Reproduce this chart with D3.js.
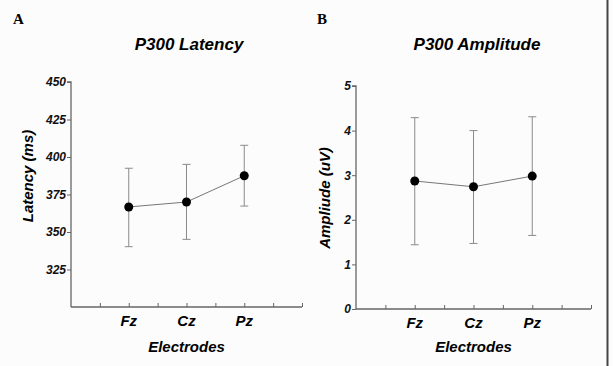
<!DOCTYPE html>
<html>
<head>
<meta charset="utf-8">
<script src="https://cdn.jsdelivr.net/npm/d3@7"></script>
<style>
  body { margin: 0; background: #fcfcfc; }
  svg { display: block; }
</style>
</head>
<body>
<svg id="chart"></svg>
<script>
// Chart size
const width = 613;
const height = 366;

// Electrodes (categories) and their slot on the x axis
const electrodes = ["Fz", "Cz", "Pz"];
const electrodeSlots = [2, 4, 6];

// Panel A: latency (ms)
const latencyMean = [366.7, 370.0, 387.5];
const latencyHigh = [392.5, 395.1, 407.8];
const latencyLow = [340.2, 345.1, 367.3];
const latencyTicks = [325, 350, 375, 400, 425, 450];

// Panel B: amplitude (uV)
const ampMean = [2.87, 2.74, 2.98];
const ampHigh = [4.29, 4.00, 4.31];
const ampLow = [1.44, 1.47, 1.65];
const ampTicks = [0, 1, 2, 3, 4, 5];

const sans = "Liberation Sans, Arial, sans-serif";

const svg = d3.select("#chart")
    .attr("width", width)
    .attr("height", height);

svg.append("rect")
    .attr("width", width)
    .attr("height", height)
    .attr("fill", "#fcfcfc");

// Right frame line
svg.append("line")
    .attr("x1", 607.5).attr("x2", 607.5)
    .attr("y1", 0).attr("y2", height)
    .attr("stroke", "#444")
    .attr("stroke-width", 2);

// Draw one panel
function drawPanel(opts) {
    const x = d3.scaleLinear().domain([0, 8]).range([opts.left, opts.right]);
    const y = d3.scaleLinear().domain(opts.domain).range([opts.bottom, opts.top]);
    const g = svg.append("g");

    // panel letter
    g.append("text")
        .attr("x", opts.letterX).attr("y", 24)
        .attr("font-family", "Liberation Serif, Times New Roman, serif")
        .attr("font-weight", "bold")
        .attr("font-size", 15)
        .text(opts.letter);

    // title
    g.append("text")
        .attr("x", opts.titleX).attr("y", 50)
        .attr("text-anchor", "middle")
        .attr("font-family", sans)
        .attr("font-weight", "bold")
        .attr("font-style", "italic")
        .attr("font-size", 17)
        .text(opts.title);

    // y axis
    const yAxis = g.append("g")
        .attr("transform", `translate(${opts.left},0)`)
        .call(d3.axisLeft(y).tickValues(opts.ticks).tickSize(4).tickPadding(1).tickFormat(d3.format("d")));
    yAxis.attr("font-family", sans).attr("font-size", 12)
        .attr("font-weight", "bold").attr("font-style", "italic");
    yAxis.select(".domain").attr("stroke", "#666").attr("stroke-width", 1.3)
        .attr("d", `M-4,${y(opts.domain[1])}H0V${opts.bottom}`);
    yAxis.selectAll(".tick line").attr("stroke", "#666");
    yAxis.selectAll(".tick text").attr("fill", "#111");

    // x axis, ticks point up
    const xAxis = g.append("g")
        .attr("transform", `translate(0,${opts.bottom})`)
        .call(d3.axisBottom(x).tickValues(d3.range(1, 9)).tickSize(-4).tickFormat(""));
    xAxis.select(".domain").attr("stroke", "#666").attr("stroke-width", 1.3)
        .attr("d", `M${opts.left},0H${opts.right}`);
    xAxis.selectAll(".tick line").attr("stroke", "#666");

    // electrode labels
    g.selectAll(".elab")
        .data(electrodes)
        .join("text")
        .attr("x", (d, i) => x(electrodeSlots[i]))
        .attr("y", opts.bottom + 19)
        .attr("text-anchor", "middle")
        .attr("font-family", sans)
        .attr("font-weight", "bold")
        .attr("font-style", "italic")
        .attr("font-size", 15)
        .text(d => d);

    // x title
    g.append("text")
        .attr("x", x(4)).attr("y", 352)
        .attr("text-anchor", "middle")
        .attr("font-family", sans)
        .attr("font-weight", "bold")
        .attr("font-style", "italic")
        .attr("font-size", 15)
        .text("Electrodes");

    // y title
    g.append("text")
        .attr("transform", `translate(${opts.yTitleX},${opts.yTitleY}) rotate(-90)`)
        .attr("text-anchor", "middle")
        .attr("font-family", sans)
        .attr("font-weight", "bold")
        .attr("font-style", "italic")
        .attr("font-size", 15)
        .text(opts.yTitle);

    const pts = electrodes.map((e, i) => ({
        x: x(electrodeSlots[i]), mean: opts.mean[i], hi: opts.high[i], lo: opts.low[i]
    }));

    // error bars
    const eb = g.selectAll(".eb").data(pts).join("g").attr("stroke", "#8a8a8a").attr("stroke-width", 1);
    eb.append("line").attr("x1", d => d.x).attr("x2", d => d.x)
        .attr("y1", d => y(d.hi)).attr("y2", d => y(d.lo));
    eb.append("line").attr("x1", d => d.x - 4).attr("x2", d => d.x + 4)
        .attr("y1", d => y(d.hi)).attr("y2", d => y(d.hi));
    eb.append("line").attr("x1", d => d.x - 4).attr("x2", d => d.x + 4)
        .attr("y1", d => y(d.lo)).attr("y2", d => y(d.lo));

    // connecting line
    g.append("path")
        .datum(pts)
        .attr("fill", "none")
        .attr("stroke", "#777")
        .attr("stroke-width", 1)
        .attr("d", d3.line().x(d => d.x).y(d => y(d.mean)));

    // points
    g.selectAll(".pt").data(pts).join("circle")
        .attr("cx", d => d.x).attr("cy", d => y(d.mean))
        .attr("r", 4.5).attr("fill", "#000");
}

drawPanel({
    letter: "A", letterX: 13, title: "P300 Latency", titleX: 189,
    left: 71, right: 302, top: 82, bottom: 307, domain: [300, 450],
    ticks: latencyTicks, mean: latencyMean, high: latencyHigh, low: latencyLow,
    yTitle: "Latency (ms)", yTitleX: 33, yTitleY: 176
});

drawPanel({
    letter: "B", letterX: 317, title: "P300 Amplitude", titleX: 477,
    left: 356, right: 591, top: 86, bottom: 309, domain: [0, 5],
    ticks: ampTicks, mean: ampMean, high: ampHigh, low: ampLow,
    yTitle: "Ampliude (uV)", yTitleX: 330, yTitleY: 198
});
</script>
</body>
</html>
